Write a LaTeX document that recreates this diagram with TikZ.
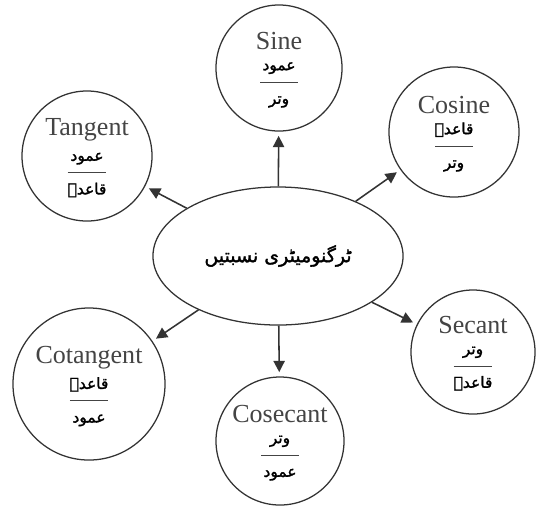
\documentclass[tikz,border=0pt]{standalone}
\usepackage{fontspec}
\setmainfont{Liberation Serif}
\newfontfamily\urdufont[Script=Arabic, FakeBold=1.6]{DejaVu Sans}
\TeXXeTstate=1
\usepackage{xcolor}
\usepackage{tikz}
\usetikzlibrary{positioning, shapes.geometric, arrows.meta}
\definecolor{ink}{HTML}{333333}
\definecolor{labelgray}{HTML}{444444}
\setlength{\arrayrulewidth}{0.7pt}
\newcommand{\nisbat}[2]{\raisebox{0pt}[\height][\dimexpr\depth-6pt\relax]{\begin{tabular}{@{}c@{}}\rule{0pt}{11pt}\makebox[0.95cm]{\urdufont\fontsize{11}{13}\selectfont\color{black}\beginR #1\endR}\\[2.5pt]\hline\rule{0pt}{15pt}{\urdufont\fontsize{11}{13}\selectfont\color{black}\beginR #2\endR}\end{tabular}}}

\begin{document}
\begin{tikzpicture}[x=0.025cm, y=-0.025cm, >={Triangle[length=8pt,width=8pt]}, ratio/.style={draw=ink, circle, line width=0.9pt, inner sep=0pt, align=center, text=labelgray, font=\fontsize{18.5}{19}\selectfont}, link/.style={->, draw=ink, line width=1.1pt, shorten >=3pt}]
\useasboundingbox (0,0) rectangle (536,509);
\node[draw=ink, ellipse, line width=0.9pt, minimum width=6.25cm, minimum height=3.45cm, inner sep=0pt] (trig) at (278,256) {\urdufont\fontsize{13.5}{15}\selectfont\beginR ٹرگنومیٹری نسبتیں\endR};
\node[ratio, minimum size=3.15cm] (sine) at (279,68) {Sine\\\nisbat{عمود}{وتر}};
\node[ratio, minimum size=3.25cm] (cosine) at (454,132) {Cosine\\\nisbat{قاعدہ}{وتر}};
\node[ratio, minimum size=3.1cm] (secant) at (473,352) {Secant\\\nisbat{وتر}{قاعدہ}};
\node[ratio, minimum size=3.2cm] (cosecant) at (280,441) {Cosecant\\\nisbat{وتر}{عمود}};
\node[ratio, minimum size=3.8cm] (cotangent) at (89,384) {Cotangent\\\nisbat{قاعدہ}{عمود}};
\node[ratio, minimum size=3.25cm] (tangent) at (87,156) {Tangent\\\nisbat{عمود}{قاعدہ}};
\draw[link] (trig) -- (sine);
\draw[link] (trig) -- (cosine);
\draw[link] (trig) -- (secant);
\draw[link] (trig) -- (cosecant);
\draw[link] (trig) -- (cotangent);
\draw[link] (trig) -- (tangent);
\end{tikzpicture}
\end{document}
